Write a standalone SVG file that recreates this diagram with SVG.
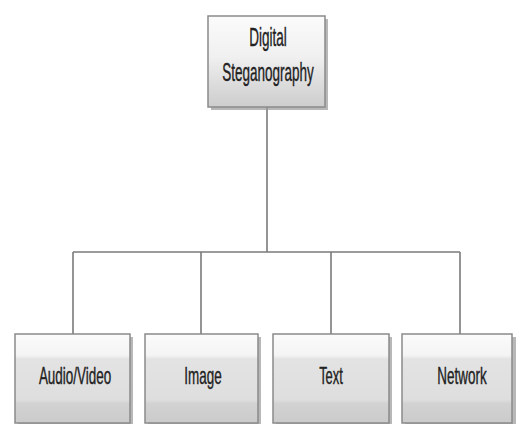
<svg xmlns="http://www.w3.org/2000/svg" width="516" height="424" viewBox="0 0 516 424">
<defs>
<linearGradient id="g" x1="0" y1="0" x2="0" y2="1">
<stop offset="0" stop-color="#fbfbfb"/>
<stop offset="0.24" stop-color="#f4f4f4"/>
<stop offset="0.28" stop-color="#e3e3e3"/>
<stop offset="0.74" stop-color="#dedede"/>
<stop offset="0.78" stop-color="#d2d2d2"/>
<stop offset="1" stop-color="#cbcbcb"/>
</linearGradient>
<linearGradient id="gt" x1="0" y1="0" x2="0" y2="1">
<stop offset="0" stop-color="#fbfbfb"/>
<stop offset="0.45" stop-color="#f0f0f0"/>
<stop offset="0.75" stop-color="#dcdcdc"/>
<stop offset="1" stop-color="#cdcdcd"/>
</linearGradient>
</defs>
<style>
.box{fill:url(#g);stroke:#8a8a8a;stroke-width:1.5}
.top{fill:url(#gt);stroke:#8a8a8a;stroke-width:1.5}
.sh{fill:#9a9a9a;opacity:0.7}
.lbl{font-family:"Liberation Sans",Arial,sans-serif;font-size:24px;fill:#222222;text-anchor:middle;stroke:#222222;stroke-width:0.4}
.lt{font-size:26px}
.conn{stroke:#7a7a7a;stroke-width:1.6;fill:none}
</style>
<rect width="516" height="424" fill="#ffffff"/>
<g id="connectors">
<path class="conn" d="M267 107 V252"/>
<path class="conn" d="M73 252 H460"/>
<path class="conn" d="M73 252 V334 M201 252 V334 M331 252 V334 M460 252 V334"/>
</g>
<g id="digital-steganography">
<rect class="sh" x="211" y="19" width="117" height="91"/>
<rect class="top" x="208" y="16" width="117" height="91"/>
<text class="lbl lt" transform="translate(268 46) scale(0.52 1)">Digital</text>
<text class="lbl lt" transform="translate(268 81) scale(0.52 1)">Steganography</text>
</g>
<g id="audio-video">
<rect class="sh" x="18" y="337" width="115" height="90"/>
<rect class="box" x="15" y="334" width="115" height="89"/>
<text class="lbl" transform="translate(75 384) scale(0.56 1)">Audio/Video</text>
</g>
<g id="image">
<rect class="sh" x="148" y="337" width="113" height="90"/>
<rect class="box" x="145" y="334" width="113" height="89"/>
<text class="lbl" transform="translate(203 384) scale(0.56 1)">Image</text>
</g>
<g id="text">
<rect class="sh" x="276" y="337" width="116" height="90"/>
<rect class="box" x="273" y="334" width="116" height="89"/>
<text class="lbl" transform="translate(331 384) scale(0.54 1)">Text</text>
</g>
<g id="network">
<rect class="sh" x="405" y="337" width="111" height="90"/>
<rect class="box" x="402" y="334" width="110" height="89"/>
<text class="lbl" transform="translate(462 384) scale(0.56 1)">Network</text>
</g>
</svg>
